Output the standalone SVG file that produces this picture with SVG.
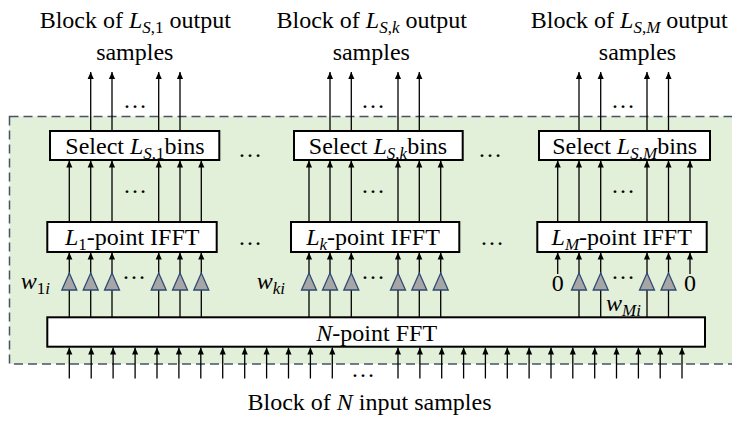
<svg xmlns="http://www.w3.org/2000/svg" width="732" height="421" viewBox="0 0 732 421">
<defs>
<style>
text{font-family:"Liberation Serif","Times New Roman",serif;font-size:24px;fill:#000}
.m{font-style:italic}
.s{font-size:17px}
.box{fill:#fff;stroke:#000;stroke-width:2}
.ln{stroke:#000;stroke-width:1.3;fill:none}
.ar{marker-end:url(#ah)}
.tri{fill:#a6a6a6;stroke:#2f4a73;stroke-width:1.3}
.mid{text-anchor:middle}
</style>
<marker id="ah" viewBox="0 0 8 8" refX="8" refY="4" markerWidth="7" markerHeight="7" markerUnits="userSpaceOnUse" orient="auto">
<path d="M0,0.5 L8,4 L0,7.5 z" fill="#000"/>
</marker>
</defs>
<rect id="frame" x="9.5" y="116.5" width="730" height="247.5" fill="#e2efd9" stroke="#44546a" stroke-width="1.5" stroke-dasharray="9,5"/>

<g id="connectors">
<!-- inputs into FFT -->
<g class="ln ar">
<path d="M69.3,378.5V347.5"/><path d="M91.2,378.5V347.5"/><path d="M113.1,378.5V347.5"/><path d="M135.1,378.5V347.5"/><path d="M157,378.5V347.5"/><path d="M178.9,378.5V347.5"/><path d="M200.8,378.5V347.5"/><path d="M222.7,378.5V347.5"/><path d="M244.7,378.5V347.5"/><path d="M266.6,378.5V347.5"/><path d="M288.5,378.5V347.5"/><path d="M310.4,378.5V347.5"/><path d="M332.3,378.5V347.5"/>
<path d="M398,378.5V347.5"/><path d="M419.9,378.5V347.5"/><path d="M441.7,378.5V347.5"/><path d="M463.6,378.5V347.5"/><path d="M485.4,378.5V347.5"/><path d="M507.3,378.5V347.5"/><path d="M529.1,378.5V347.5"/><path d="M551,378.5V347.5"/><path d="M572.8,378.5V347.5"/><path d="M594.7,378.5V347.5"/><path d="M616.5,378.5V347.5"/><path d="M638.4,378.5V347.5"/><path d="M660.2,378.5V347.5"/><path d="M682,378.5V347.5"/>
</g>
<!-- FFT to IFFT (through gains) -->
<g class="ln ar">
<path d="M69.3,317V252.5"/><path d="M90.7,317V252.5"/><path d="M112,317V252.5"/><path d="M158.7,317V252.5"/><path d="M180,317V252.5"/><path d="M201.3,317V252.5"/>
<path d="M309,317V252.5"/><path d="M330,317V252.5"/><path d="M351.3,317V252.5"/><path d="M398,317V252.5"/><path d="M419.3,317V252.5"/><path d="M440.7,317V252.5"/>
<path d="M579,317V252.5"/><path d="M600.7,317V252.5"/><path d="M647,317V252.5"/><path d="M668.5,317V252.5"/>
<path d="M557.7,274V252.5"/><path d="M690,274V252.5"/>
</g>
<!-- IFFT to Select -->
<g class="ln ar">
<path d="M69.3,222V160.5"/><path d="M90.7,222V160.5"/><path d="M112,222V160.5"/><path d="M158.7,222V160.5"/><path d="M180,222V160.5"/><path d="M201.3,222V160.5"/>
<path d="M309,222V160.5"/><path d="M330,222V160.5"/><path d="M351.3,222V160.5"/><path d="M398,222V160.5"/><path d="M419.3,222V160.5"/><path d="M440.7,222V160.5"/>
<path d="M557.7,222V160.5"/><path d="M579,222V160.5"/><path d="M600.7,222V160.5"/><path d="M647,222V160.5"/><path d="M668.5,222V160.5"/><path d="M690,222V160.5"/>
</g>
<!-- outputs -->
<g class="ln ar">
<path d="M90.7,131V72"/><path d="M112,131V72"/><path d="M158.7,131V72"/><path d="M180,131V72"/>
<path d="M330,131V72"/><path d="M351.3,131V72"/><path d="M398,131V72"/><path d="M419.3,131V72"/>
<path d="M579,131V72"/><path d="M600.7,131V72"/><path d="M647,131V72"/><path d="M668.5,131V72"/>
</g>
</g>

<g id="gains">
<path class="tri" d="M61.8,290H76.8L69.3,273Z"/><path class="tri" d="M83.2,290H98.2L90.7,273Z"/><path class="tri" d="M104.5,290H119.5L112,273Z"/><path class="tri" d="M151.2,290H166.2L158.7,273Z"/><path class="tri" d="M172.5,290H187.5L180,273Z"/><path class="tri" d="M193.8,290H208.8L201.3,273Z"/>
<path class="tri" d="M301.5,290H316.5L309,273Z"/><path class="tri" d="M322.5,290H337.5L330,273Z"/><path class="tri" d="M343.8,290H358.8L351.3,273Z"/><path class="tri" d="M390.5,290H405.5L398,273Z"/><path class="tri" d="M411.8,290H426.8L419.3,273Z"/><path class="tri" d="M433.2,290H448.2L440.7,273Z"/>
<path class="tri" d="M571.5,290H586.5L579,273Z"/><path class="tri" d="M593.2,290H608.2L600.7,273Z"/><path class="tri" d="M639.5,290H654.5L647,273Z"/><path class="tri" d="M661,290H676L668.5,273Z"/>
</g>

<g id="select1"><rect class="box" x="50" y="131" width="169.3" height="29"/>
<text class="mid" x="135" y="154">Select <tspan class="m">L</tspan><tspan class="m s" dy="5">S</tspan><tspan class="s">,1</tspan><tspan dy="-5">bins</tspan></text></g>
<g id="select2"><rect class="box" x="294" y="131" width="168.7" height="29"/>
<text class="mid" x="378" y="154">Select <tspan class="m">L</tspan><tspan class="m s" dy="5">S</tspan><tspan class="s">,</tspan><tspan class="m s">k</tspan><tspan dy="-5">bins</tspan></text></g>
<g id="select3"><rect class="box" x="539" y="131" width="171" height="29"/>
<text class="mid" x="624.7" y="154">Select <tspan class="m">L</tspan><tspan class="m s" dy="5">S</tspan><tspan class="s">,</tspan><tspan class="m s">M</tspan><tspan dy="-5">bins</tspan></text></g>

<g id="ifft1"><rect class="box" x="47.3" y="222" width="169.4" height="30"/>
<text class="mid" x="132.2" y="245"><tspan class="m">L</tspan><tspan class="s" dy="5">1</tspan><tspan dy="-5">-point IFFT</tspan></text></g>
<g id="ifft2"><rect class="box" x="291" y="222" width="168.3" height="30"/>
<text class="mid" x="373" y="245"><tspan class="m">L</tspan><tspan class="m s" dy="5">k</tspan><tspan dy="-5">-point IFFT</tspan></text></g>
<g id="ifft3"><rect class="box" x="537.3" y="222" width="169.4" height="30"/>
<text class="mid" x="621.7" y="245"><tspan class="m">L</tspan><tspan class="m s" dy="5">M</tspan><tspan dy="-5">-point IFFT</tspan></text></g>

<g id="fft"><rect class="box" x="47.3" y="317.3" width="657.7" height="29.4"/>
<text class="mid" x="376.7" y="341"><tspan class="m">N</tspan>-point FFT</text></g>

<g id="labels">
<text class="mid" x="135.3" y="27.7">Block of <tspan class="m">L</tspan><tspan class="m s" dy="5">S</tspan><tspan class="s">,1</tspan><tspan dy="-5"> output</tspan></text>
<text class="mid" x="134.8" y="59.5">samples</text>
<text class="mid" x="371.7" y="27.7">Block of <tspan class="m">L</tspan><tspan class="m s" dy="5">S</tspan><tspan class="s">,</tspan><tspan class="m s">k</tspan><tspan dy="-5"> output</tspan></text>
<text class="mid" x="371.3" y="59.5">samples</text>
<text class="mid" x="629.2" y="27.7">Block of <tspan class="m">L</tspan><tspan class="m s" dy="5">S</tspan><tspan class="s">,</tspan><tspan class="m s">M</tspan><tspan dy="-5"> output</tspan></text>
<text class="mid" x="637.5" y="59.5">samples</text>
<text class="mid" x="369.5" y="410">Block of <tspan class="m">N</tspan> input samples</text>
<text x="20.7" y="289"><tspan class="m">w</tspan><tspan class="s" dy="5">1</tspan><tspan class="m s">i</tspan></text>
<text x="256.7" y="289"><tspan class="m">w</tspan><tspan class="m s" dy="5">ki</tspan></text>
<text x="606" y="311"><tspan class="m">w</tspan><tspan class="m s" dy="5">Mi</tspan></text>
<text class="mid" x="557.7" y="290.5">0</text>
<text class="mid" x="690" y="290.5">0</text>
</g>

<g id="ellipses">
<text class="mid" x="135" y="108">…</text>
<text class="mid" x="373" y="108">…</text>
<text class="mid" x="623" y="108">…</text>
<text class="mid" x="135" y="193">…</text>
<text class="mid" x="373" y="193">…</text>
<text class="mid" x="623" y="193">…</text>
<text class="mid" x="134" y="278.5">…</text>
<text class="mid" x="373" y="278.5">…</text>
<text class="mid" x="623" y="278.5">…</text>
<text class="mid" x="250" y="156.5">…</text>
<text class="mid" x="490" y="156.5">…</text>
<text class="mid" x="250" y="244.5">…</text>
<text class="mid" x="492" y="244.5">…</text>
<text class="mid" x="363" y="376.5">…</text>
</g>
</svg>
